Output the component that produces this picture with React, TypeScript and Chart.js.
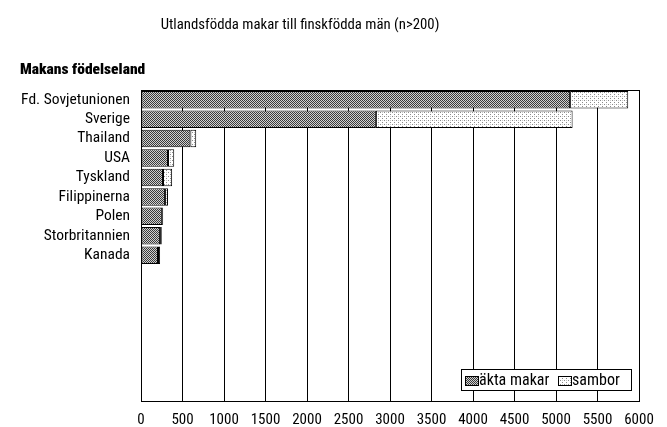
import React, { useEffect, useRef } from 'react';
import { Chart, registerables } from 'chart.js';
Chart.register(...registerables);

const title = 'Utlandsfödda makar till finskfödda män (n>200)';
const axisTitle = 'Makans födelseland';
const categories = ['Fd. Sovjetunionen', 'Sverige', 'Thailand', 'USA', 'Tyskland', 'Filippinerna', 'Polen', 'Storbritannien', 'Kanada'];
const aktaMakar = [5170, 2830, 595, 325, 265, 290, 255, 230, 205];
const sambor = [700, 2370, 70, 75, 110, 35, 12, 20, 25];
const seriesNames = ['äkta makar', 'sambor'];
const xMin = 0;
const xMax = 6000;
const xStep = 500;
const emptyRows = 7;

const FONT = '"Roboto Condensed", "DejaVu Sans Condensed", sans-serif';

function makePattern(kind: 'dark' | 'light'): CanvasPattern | string {
  const c = document.createElement('canvas');
  c.width = 4;
  c.height = 4;
  const g = c.getContext('2d');
  if (!g) return kind === 'dark' ? '#858585' : '#e8e8e8';
  if (kind === 'dark') {
    g.fillStyle = '#d0d0d0';
    g.fillRect(0, 0, 4, 4);
    g.fillStyle = '#3a3a3a';
    for (let y = 0; y < 4; y++) for (let x = 0; x < 4; x++) if ((x + y) % 2 === 0) g.fillRect(x, y, 1, 1);
  } else {
    g.fillStyle = '#ffffff';
    g.fillRect(0, 0, 4, 4);
    g.fillStyle = '#8a8a8a';
    g.fillRect(0, 0, 1, 1);
    g.fillRect(2, 2, 1, 1);
    g.fillStyle = '#c8c8c8';
    g.fillRect(2, 0, 1, 1);
  }
  const p = g.createPattern(c, 'repeat');
  return p || (kind === 'dark' ? '#858585' : '#e8e8e8');
}

export default function App() {
  const ref = useRef<HTMLCanvasElement | null>(null);
  useEffect(() => {
    const canvas = ref.current;
    if (!canvas) return;
    const dark = makePattern('dark');
    const light = makePattern('light');
    const labels = [...categories, ...Array(emptyRows).fill('')];

    const decor = {
      id: 'decor',
      afterDraw(chart: any) {
        const ctx = chart.ctx as CanvasRenderingContext2D;
        const a = chart.chartArea;
        ctx.save();
        ctx.strokeStyle = '#000';
        ctx.lineWidth = 1;
        ctx.strokeRect(Math.round(a.left) + 0.5, Math.round(a.top) + 0.5, Math.round(a.right - a.left), Math.round(a.bottom - a.top));
        ctx.fillStyle = '#000';
        ctx.textBaseline = 'middle';
        ctx.textAlign = 'center';
        ctx.font = `14.8px ${FONT}`;
        ctx.fillText(title, 300, 25);
        ctx.textAlign = 'left';
        ctx.font = `900 15.5px ${FONT}`;
        ctx.fillText(axisTitle, 20, 70);
        // legend
        const lx = 461, ly = 369, lw = 170, lh = 21;
        ctx.fillStyle = '#fff';
        ctx.fillRect(lx, ly, lw, lh);
        ctx.strokeRect(lx + 0.5, ly + 0.5, lw, lh);
        const fills = [dark, light];
        const xs = [465, 558];
        ctx.font = `16px ${FONT}`;
        for (let i = 0; i < 2; i++) {
          ctx.fillStyle = fills[i] as any;
          ctx.fillRect(xs[i], ly + 7, 13, 9);
          ctx.strokeStyle = '#000';
          ctx.strokeRect(xs[i] + 0.5, ly + 7.5, 13, 9);
          ctx.fillStyle = '#000';
          ctx.fillText(seriesNames[i], xs[i] + 14, ly + 11.5);
        }
        ctx.restore();
      },
    };

    const xTicks: number[] = [];
    for (let v = xMin; v <= xMax; v += xStep) xTicks.push(v);

    const chart = new Chart(canvas, {
      type: 'bar',
      data: {
        labels,
        datasets: [
          {
            label: seriesNames[0],
            data: aktaMakar,
            backgroundColor: dark as any,
            borderColor: '#000',
            borderWidth: 1,
            borderSkipped: false,
            barPercentage: 0.9,
            categoryPercentage: 1,
          },
          {
            label: seriesNames[1],
            data: sambor,
            backgroundColor: light as any,
            borderColor: '#000',
            borderWidth: 1,
            borderSkipped: false,
            barPercentage: 0.9,
            categoryPercentage: 1,
          },
        ],
      },
      options: {
        indexAxis: 'y',
        responsive: false,
        animation: false,
        layout: { padding: { top: 90, right: 28, bottom: 0, left: 0 } },
        plugins: {
          legend: { display: false },
          title: { display: false },
          tooltip: { enabled: false },
        },
        scales: {
          x: {
            stacked: true,
            min: xMin,
            max: xMax,
            afterBuildTicks: (scale: any) => {
              scale.ticks = xTicks.map((v) => ({ value: v }));
            },
            afterFit: (scale: any) => {
              scale.height = 26;
            },
            grid: { color: '#000', lineWidth: 1, drawTicks: false },
            border: { display: true, color: '#000' },
            ticks: {
              color: '#000',
              font: { family: FONT, size: 15 },
              padding: 10,
              maxRotation: 0,
              autoSkip: false,
              callback: (v: any) => String(v),
            },
          },
          y: {
            stacked: true,
            afterFit: (scale: any) => {
              scale.width = 141;
            },
            grid: { display: false, drawTicks: false },
            border: { display: true, color: '#000' },
            ticks: {
              color: '#000',
              font: { family: FONT, size: 15.5 },
              padding: 11,
              autoSkip: false,
            },
          },
        },
      },
      plugins: [decor],
    });
    return () => chart.destroy();
  }, []);
  return (
    <canvas
      ref={ref}
      width={667}
      height={427}
      style={{ position: 'absolute', left: 0, top: 0, display: 'block', background: '#fff' }}
    />
  );
}
